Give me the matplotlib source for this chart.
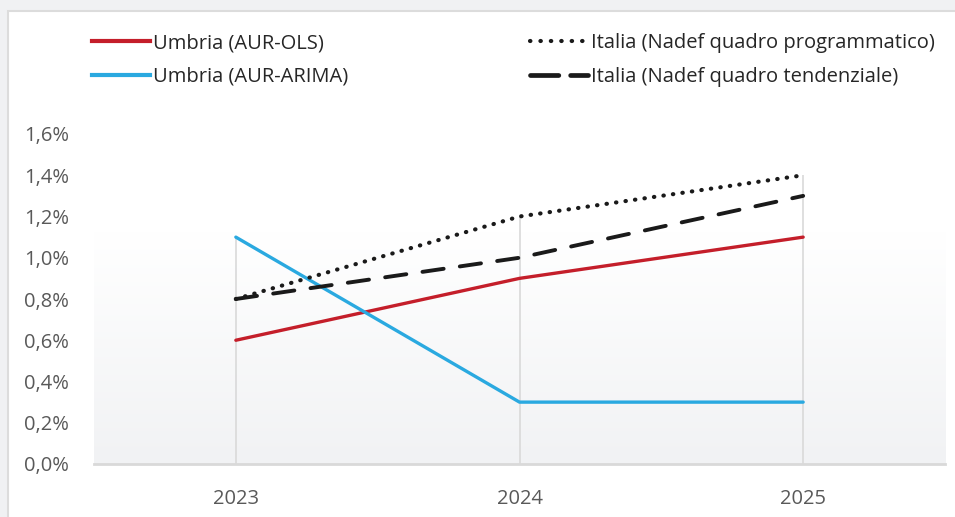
import matplotlib
matplotlib.use("Agg")
import matplotlib.pyplot as plt
import numpy as np
from matplotlib.lines import Line2D
from matplotlib.patches import Rectangle
from matplotlib.colors import LinearSegmentedColormap

years = ["2023", "2024", "2025"]
umbria_ols = [0.6, 0.9, 1.1]
umbria_arima = [1.1, 0.3, 0.3]
italia_prog = [0.8, 1.2, 1.4]
italia_tend = [0.8, 1.0, 1.3]
yticks = [0.0, 0.2, 0.4, 0.6, 0.8, 1.0, 1.2, 1.4, 1.6]
ytick_labels = ["0,0%", "0,2%", "0,4%", "0,6%", "0,8%", "1,0%", "1,2%", "1,4%", "1,6%"]

plt.rcParams['font.family'] = ['Open Sans', 'DejaVu Sans']

W, H = 955, 517
fig = plt.figure(figsize=(W/100, H/100), dpi=100)
fig.patch.set_facecolor('#f0f1f3')
card = Rectangle((8/W, -0.01), 1 - 8/W + 0.01, 1 - 11/H + 0.01, transform=fig.transFigure,
                 facecolor='white', edgecolor='#dcdcdc', linewidth=1.5, zorder=-5)
fig.patches.append(card)

# axes: plot left 94, right 945, y=0 at 464; 0.2% = 41.25 px
x0, x1 = 94, 945
ybot = 464
px_per = 206.25
ylim_top = 1.7
ytop = ybot - ylim_top * px_per
ax = fig.add_axes([x0/W, 1 - ybot/H, (x1-x0)/W, (ybot-ytop)/H])
ax.set_facecolor('none')
x = np.arange(len(years))
ax.set_xlim(-0.5, len(years) - 0.5)
ax.set_ylim(0, ylim_top)

# gradient background
grad = np.linspace(0, 1, 256).reshape(-1, 1)
cmap = LinearSegmentedColormap.from_list('g', ['#f1f2f4', '#ffffff'])
ax.imshow(grad, aspect='auto', cmap=cmap, origin='lower',
          extent=(-0.5, len(years) - 0.5, 0, 1.12), zorder=0)

# drop lines
maxvals = np.max(np.array([umbria_ols, umbria_arima, italia_prog, italia_tend]), axis=0)
ax.vlines(x, 0, maxvals, colors='#d9d9d9', linewidth=1.2, zorder=1)

lw = 2.4
ax.plot(x, umbria_ols, color='#c41e2a', lw=lw, solid_capstyle='round', zorder=3)
ax.plot(x, umbria_arima, color='#2aa9e0', lw=lw, solid_capstyle='round', zorder=3)
ax.plot(x, italia_prog, color='#1a1a1a', lw=3.0, linestyle=(0, (0.1, 2.2)),
        dash_capstyle='round', zorder=4)
ax.plot(x, italia_tend, color='#1a1a1a', lw=2.8, linestyle=(0, (5.5, 4.2)),
        dash_capstyle='round', zorder=4)

for s in ['top', 'right', 'left']:
    ax.spines[s].set_visible(False)
ax.spines['bottom'].set_color('#d9d9d9')
ax.spines['bottom'].set_linewidth(2)
ax.set_xticks(x)
ax.set_xticklabels(years, fontsize=14.5, color='#595959')
ax.set_yticks(yticks)
ax.set_yticklabels(ytick_labels, fontsize=14.5, color='#595959')
ax.tick_params(axis='both', length=0)
ax.tick_params(axis='x', pad=18)
ax.tick_params(axis='y', pad=18)

# legends (two columns)
leg_kw = dict(frameon=False, fontsize=14.5, handlelength=2.9, handletextpad=0.15,
              labelspacing=0.68, borderaxespad=0, borderpad=0, labelcolor='#262626')
h1 = [Line2D([], [], color='#c41e2a', lw=3), Line2D([], [], color='#2aa9e0', lw=3)]
fig.legend(h1, ["Umbria (AUR-OLS)", "Umbria (AUR-ARIMA)"], loc='upper left',
           bbox_to_anchor=(92/W, 1 - 33/H), **leg_kw)
h2 = [Line2D([], [], color='#1a1a1a', lw=3, linestyle=(0, (0.1, 2.4)), dash_capstyle='round'),
      Line2D([], [], color='#1a1a1a', lw=3.4, linestyle=(0, (6, 2.5)), dash_capstyle='round')]
fig.legend(h2, ["Italia (Nadef quadro programmatico)", "Italia (Nadef quadro tendenziale)"],
           loc='upper left', bbox_to_anchor=(530/W, 1 - 33/H), **leg_kw)

fig.savefig('out.png', dpi=100, facecolor=fig.get_facecolor())
